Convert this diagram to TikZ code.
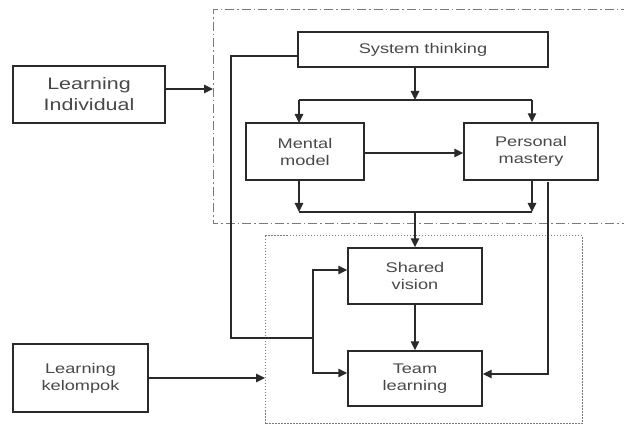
\documentclass[tikz,border=0pt]{standalone}
\usepackage{fontspec}
\setmainfont[FakeStretch=1.3]{Liberation Sans}
\usetikzlibrary{arrows.meta}
\definecolor{linec}{HTML}{2A2A2A}
\definecolor{textc}{HTML}{484848}
\definecolor{framec}{HTML}{7A7A7A}
\tikzset{
  box/.style={draw=linec, line width=1.4pt, rectangle, inner sep=0pt, align=center, text=textc, font=\fontsize{14}{17}\selectfont},
  bigbox/.style={box, font=\fontsize{16.5}{21}\selectfont},
  conn/.style={draw=linec, line width=1.4pt},
  arr/.style={conn, -{Triangle[length=9pt,width=8.5pt]}},
  dashdotframe/.style={draw=framec, line width=1pt, dash pattern=on 9pt off 3pt on 1.5pt off 3pt},
  dotframe/.style={draw=framec, line width=1pt, dash pattern=on 1.5pt off 1.5pt}
}
\begin{document}
\begin{tikzpicture}[x=1pt, y=-1pt]
\useasboundingbox (0,0) rectangle (624,427);
% frames
\draw[dashdotframe] (630,10) -- (213,10) -- (213,224) -- (630,224);
\draw[dotframe] (265,236) rectangle (582,424);
% nodes
\node[bigbox, minimum width=152pt, minimum height=57pt] (li) at (89,94.5) {Learning\\Individual};
\node[box, minimum width=250pt, minimum height=35pt] (st) at (423,49.5) {System thinking};
\node[box, minimum width=118pt, minimum height=57pt] (mm) at (305,151.5) {Mental\\model};
\node[box, minimum width=134pt, minimum height=57pt] (pm) at (531,151.5) {Personal\\mastery};
\node[box, minimum width=134pt, minimum height=56pt] (sv) at (415,276) {Shared\\vision};
\node[box, minimum width=134pt, minimum height=55pt] (tl) at (415,378.5) {Team\\learning};
\node[box, minimum width=135pt, minimum height=68pt] (lk) at (80.5,378) {Learning\\kelompok};
% coordinates
\coordinate (liend) at (213,89);
\coordinate (lkend) at (265,378);
\coordinate (split1) at (415,100);
\coordinate (join1) at (415,212);
\coordinate (stleft) at (231,56);
\coordinate (bot) at (231,338);
\coordinate (branch) at (313,338);
% connectors
\draw[arr] (li.east |- liend) -- (liend);
\draw[arr] (lk.east |- lkend) -- (lkend);
\draw[arr] (st.south -| split1) -- (split1);
\draw[conn] (299,100) -- (532,100);
\draw[arr] (299,100) -- (299,123);
\draw[arr] (532,100) -- (pm.north -| 532,0);
\draw[arr] (mm.east |- 0,153) -- (pm.west |- 0,153);
\draw[arr] (299,180) -- (299,212);
\draw[arr] (532,180) -- (532,212);
\draw[conn] (299,212) -- (532,212);
\draw[arr] (join1) -- (sv.north);
\draw[arr] (sv.south) -- (tl.north);
\draw[conn] (st.west |- stleft) -- (stleft) -- (bot) -- (branch);
\draw[arr] (313,338) |- (sv.west |- 0,270);
\draw[arr] (313,338) |- (tl.west |- 0,373);
\draw[arr] (548,182) |- (tl.east |- 0,374);
\end{tikzpicture}
\end{document}
